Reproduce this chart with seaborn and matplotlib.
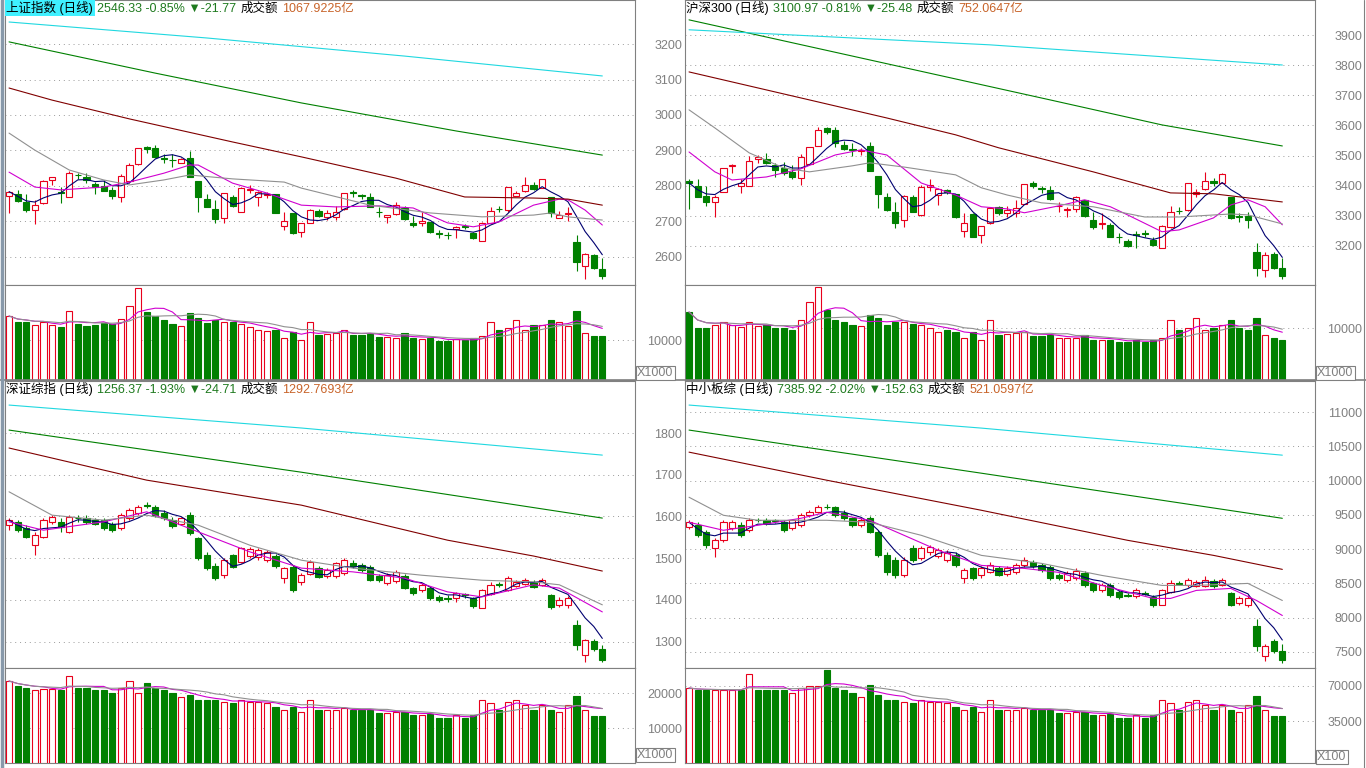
import numpy as np
import pandas as pd
import matplotlib
matplotlib.use("Agg")
import matplotlib.pyplot as plt
import seaborn as sns

sns.set_theme(style="white")
plt.rcParams["font.family"] = ["Liberation Sans", "Noto Sans CJK SC", "DejaVu Sans"]
plt.rcParams["axes.unicode_minus"] = False

UP = "#e8001c"
DOWN = "#008000"
GREEN_TXT = "#1f7a1f"
ORANGE_TXT = "#c8642a"
GRAYTXT = "#808080"

# ---------------- 上证指数 ----------------
sh_open = [2773, 2776, 2754, 2732, 2751, 2818, 2782, 2770, 2832, 2826,
           2805, 2800, 2790, 2768, 2814, 2861, 2910, 2906, 2878, 2874,
           2866, 2880, 2814, 2763, 2734, 2711, 2770, 2727, 2790, 2770,
           2774, 2776, 2687, 2723, 2671, 2697, 2729, 2713, 2713, 2735,
           2782, 2774, 2768, 2728, 2713, 2720, 2737, 2697, 2695, 2699,
           2667, 2663, 2678, 2686, 2668, 2645, 2696, 2736, 2732, 2772,
           2786, 2804, 2793, 2768, 2711, 2721, 2641, 2574, 2605, 2565]
sh_close = [2784, 2758, 2732, 2745, 2813, 2826, 2780, 2837, 2830, 2817,
            2798, 2787, 2772, 2828, 2859, 2906, 2904, 2882, 2876, 2872,
            2876, 2826, 2770, 2741, 2706, 2779, 2743, 2793, 2792, 2784,
            2776, 2723, 2702, 2668, 2696, 2732, 2715, 2723, 2727, 2779,
            2780, 2772, 2741, 2726, 2719, 2746, 2706, 2690, 2701, 2671,
            2665, 2661, 2685, 2684, 2654, 2697, 2729, 2734, 2796, 2779,
            2804, 2791, 2821, 2723, 2718, 2725, 2585, 2607, 2568, 2546.33]
sh_high = [2786, 2790, 2776, 2760, 2817, 2826, 2796, 2842, 2837, 2837,
           2812, 2817, 2796, 2834, 2864, 2908, 2912, 2915, 2890, 2890,
           2880, 2899, 2814, 2777, 2760, 2781, 2774, 2798, 2803, 2787,
           2784, 2776, 2727, 2725, 2696, 2734, 2734, 2732, 2743, 2781,
           2790, 2777, 2779, 2740, 2719, 2756, 2743, 2716, 2726, 2699,
           2676, 2671, 2687, 2692, 2671, 2699, 2742, 2743, 2796, 2786,
           2824, 2812, 2821, 2770, 2730, 2742, 2662, 2610, 2608, 2596]
sh_low = [2723, 2756, 2727, 2693, 2750, 2803, 2753, 2769, 2820, 2807,
          2776, 2786, 2764, 2756, 2807, 2860, 2894, 2880, 2866, 2854,
          2864, 2824, 2727, 2740, 2695, 2696, 2742, 2727, 2779, 2743,
          2765, 2723, 2676, 2666, 2655, 2697, 2713, 2704, 2704, 2732,
          2770, 2764, 2740, 2713, 2695, 2718, 2704, 2685, 2687, 2668,
          2654, 2652, 2654, 2678, 2650, 2645, 2695, 2726, 2727, 2772,
          2784, 2788, 2793, 2712, 2711, 2702, 2561, 2537, 2565, 2537]
sh_vol = [16000, 14500, 14500, 13750, 14500, 13750, 13250, 17250, 14000, 13500,
          13750, 14250, 14000, 15250, 18500, 23000, 17000, 16000, 15000, 14000,
          13500, 16750, 15500, 14250, 15000, 14500, 14500, 14000, 13250, 12500,
          12250, 12500, 10500, 12000, 10000, 14500, 11250, 11500, 11750, 12500,
          11250, 11250, 11500, 10750, 10750, 10500, 11750, 10500, 10250, 10500,
          9750, 9750, 10250, 10000, 10500, 11000, 14500, 12500, 13000, 15000,
          12500, 13750, 13750, 15000, 14500, 13500, 17250, 11750, 11000, 11000]
sh_ma10_x = [0, 3, 6, 11, 14, 18, 21, 22, 26, 30, 34, 38, 43, 47, 51, 54, 57, 61, 64, 65, 67, 69]
sh_ma10_y = [2839, 2797, 2789, 2797, 2811, 2836, 2859, 2859, 2808, 2780, 2746, 2741, 2744, 2738,
             2696, 2685, 2699, 2746, 2763, 2761, 2732, 2690]
sh_ma20_x = [0, 3, 7, 11, 14, 18, 21, 26, 32, 34, 42, 49, 55, 61, 63, 65, 69]
sh_ma20_y = [2949, 2901, 2845, 2817, 2803, 2817, 2831, 2820, 2811, 2794, 2746, 2724, 2713, 2718,
             2724, 2713, 2704]
sh_ma60_x = [0, 5, 14, 26, 34, 45, 53, 61, 65, 69]
sh_ma60_y = [3076, 3042, 2989, 2924, 2882, 2822, 2769, 2766, 2763, 2746]
sh_ma120_x = [0, 17, 34, 52, 69]
sh_ma120_y = [3206, 3118, 3034, 2955, 2887]
sh_ma250_x = [0, 23, 46, 69]
sh_ma250_y = [3262, 3217, 3166, 3110]
sh_ticks = [2600, 2700, 2800, 2900, 3000, 3100, 3200]
sh_vticks = [10000]

# ---------------- 沪深300 ----------------
hs_open = [3414, 3399, 3366, 3345, 3378, 3464, 3399, 3400, 3488, 3488,
           3469, 3460, 3445, 3425, 3472, 3532, 3591, 3585, 3536, 3522,
           3516, 3532, 3432, 3364, 3312, 3286, 3362, 3303, 3395, 3369,
           3386, 3372, 3250, 3305, 3237, 3275, 3328, 3309, 3309, 3340,
           3408, 3393, 3386, 3332, 3320, 3322, 3351, 3286, 3273, 3270,
           3230, 3217, 3238, 3243, 3220, 3192, 3262, 3317, 3320, 3371,
           3388, 3417, 3410, 3362, 3299, 3300, 3179, 3120, 3173, 3126]
hs_close = [3409, 3364, 3345, 3364, 3458, 3468, 3408, 3482, 3495, 3475,
            3452, 3441, 3430, 3495, 3528, 3585, 3580, 3541, 3522, 3520,
            3518, 3450, 3373, 3320, 3275, 3367, 3314, 3397, 3403, 3388,
            3378, 3295, 3275, 3231, 3266, 3325, 3309, 3320, 3325, 3405,
            3399, 3390, 3355, 3334, 3323, 3362, 3300, 3264, 3275, 3231,
            3228, 3200, 3235, 3241, 3203, 3267, 3311, 3315, 3410, 3380,
            3416, 3408, 3439, 3292, 3296, 3286, 3126, 3170, 3126, 3100.97]
hs_high = [3423, 3423, 3399, 3369, 3458, 3471, 3423, 3497, 3502, 3508,
           3477, 3480, 3469, 3505, 3530, 3596, 3596, 3596, 3550, 3541,
           3524, 3545, 3432, 3375, 3347, 3369, 3369, 3403, 3423, 3392,
           3389, 3372, 3309, 3309, 3266, 3327, 3331, 3331, 3353, 3405,
           3417, 3399, 3399, 3347, 3328, 3366, 3353, 3314, 3309, 3275,
           3244, 3222, 3248, 3253, 3229, 3270, 3331, 3328, 3410, 3388,
           3447, 3425, 3441, 3364, 3309, 3311, 3209, 3178, 3181, 3159]
hs_low = [3322, 3362, 3331, 3297, 3378, 3441, 3377, 3400, 3477, 3471,
          3430, 3436, 3421, 3403, 3472, 3532, 3571, 3530, 3519, 3497,
          3502, 3450, 3325, 3317, 3259, 3264, 3314, 3300, 3384, 3336,
          3372, 3292, 3231, 3228, 3209, 3273, 3301, 3295, 3295, 3340,
          3392, 3375, 3353, 3311, 3295, 3311, 3297, 3255, 3255, 3229,
          3211, 3196, 3192, 3229, 3198, 3192, 3260, 3306, 3317, 3364,
          3386, 3399, 3410, 3290, 3278, 3259, 3100, 3098, 3122, 3089]
hs_vol = [13080, 10000, 10000, 10580, 11150, 10580, 10190, 11150, 10380, 10580,
          10000, 10000, 9620, 11540, 15000, 17900, 13460, 11540, 11150, 10580,
          10380, 12500, 11920, 10580, 11150, 11150, 10770, 10580, 10000, 9230,
          9620, 9230, 8080, 9230, 7690, 11540, 8650, 8850, 9040, 9230,
          8460, 8460, 8650, 8080, 8080, 8080, 8650, 7690, 7690, 7690,
          7310, 7310, 7690, 7310, 7690, 8080, 11540, 9620, 10000, 11920,
          9620, 10000, 10580, 11540, 10000, 9620, 11920, 8650, 8080, 7690]
hs_ma10_x = [0, 3, 5, 9, 13, 17, 20, 23, 27, 31, 34, 37, 39, 43, 46, 49, 51, 55, 57, 61, 63, 65, 67, 69]
hs_ma10_y = [3512, 3446, 3419, 3429, 3456, 3502, 3519, 3502, 3409, 3369, 3330, 3323, 3310, 3333,
             3353, 3330, 3303, 3247, 3253, 3293, 3336, 3353, 3330, 3270]
hs_ma20_x = [0, 3, 7, 11, 14, 19, 21, 25, 31, 34, 37, 41, 47, 53, 57, 63, 65, 69]
hs_ma20_y = [3652, 3592, 3509, 3459, 3446, 3466, 3476, 3462, 3436, 3393, 3369, 3343, 3330, 3296,
             3296, 3306, 3303, 3273]
hs_ma60_x = [0, 14, 23, 31, 36, 47, 56, 61, 69]
hs_ma60_y = [3778, 3685, 3625, 3569, 3526, 3446, 3376, 3373, 3346]
hs_ma120_x = [0, 21, 42, 55, 69]
hs_ma120_y = [3951, 3818, 3685, 3602, 3532]
hs_ma250_x = [0, 35, 69]
hs_ma250_y = [3918, 3868, 3801]
hs_ticks = [3200, 3300, 3400, 3500, 3600, 3700, 3800, 3900]
hs_vticks = [10000]

# ---------------- 深证综指 ----------------
sz_open = [1579, 1587, 1572, 1531, 1551, 1587, 1587, 1563, 1597, 1596,
           1591, 1591, 1582, 1572, 1596, 1608, 1628, 1623, 1608, 1591,
           1582, 1603, 1548, 1507, 1481, 1459, 1507, 1491, 1505, 1503,
           1495, 1505, 1452, 1479, 1443, 1462, 1476, 1457, 1457, 1464,
           1488, 1483, 1479, 1457, 1440, 1445, 1457, 1428, 1424, 1428,
           1407, 1405, 1404, 1413, 1404, 1380, 1414, 1437, 1424, 1433,
           1438, 1443, 1436, 1412, 1388, 1388, 1340, 1268, 1302, 1281]
sz_close = [1591, 1567, 1551, 1555, 1591, 1599, 1575, 1599, 1595, 1587,
            1582, 1572, 1567, 1603, 1615, 1623, 1626, 1603, 1596, 1577,
            1596, 1560, 1500, 1476, 1452, 1495, 1479, 1524, 1522, 1519,
            1515, 1481, 1476, 1424, 1459, 1491, 1455, 1471, 1488, 1495,
            1481, 1471, 1447, 1447, 1459, 1467, 1428, 1416, 1436, 1404,
            1400, 1403, 1416, 1411, 1385, 1424, 1436, 1435, 1452, 1443,
            1447, 1431, 1447, 1383, 1400, 1404, 1292, 1304, 1281, 1256.37]
sz_high = [1596, 1591, 1579, 1563, 1596, 1603, 1596, 1603, 1603, 1603,
           1596, 1596, 1587, 1608, 1620, 1627, 1634, 1627, 1615, 1599,
           1599, 1611, 1551, 1515, 1488, 1500, 1510, 1527, 1527, 1524,
           1519, 1510, 1479, 1483, 1464, 1495, 1481, 1476, 1491, 1500,
           1495, 1488, 1483, 1462, 1464, 1471, 1462, 1431, 1440, 1431,
           1412, 1412, 1419, 1416, 1407, 1426, 1443, 1443, 1457, 1447,
           1452, 1447, 1452, 1414, 1407, 1409, 1352, 1307, 1307, 1292]
sz_low = [1567, 1563, 1548, 1507, 1548, 1582, 1563, 1560, 1587, 1582,
          1579, 1567, 1563, 1567, 1591, 1603, 1620, 1599, 1591, 1572,
          1579, 1555, 1495, 1471, 1447, 1452, 1476, 1488, 1500, 1495,
          1491, 1476, 1440, 1419, 1436, 1459, 1452, 1452, 1452, 1459,
          1476, 1467, 1445, 1443, 1436, 1440, 1426, 1412, 1419, 1400,
          1395, 1395, 1395, 1405, 1380, 1380, 1412, 1431, 1421, 1431,
          1436, 1428, 1433, 1378, 1383, 1380, 1280, 1251, 1277, 1251]
sz_vol = [23428, 22000, 21428, 20857, 21143, 21143, 20857, 24857, 21428, 21428,
          20857, 20857, 20000, 21428, 23428, 20000, 22857, 21428, 20857, 20000,
          18857, 19428, 18000, 18000, 18000, 17428, 17143, 18000, 17428, 17428,
          17143, 16000, 15143, 16000, 14571, 18000, 15143, 15143, 15143, 15714,
          15143, 15143, 15143, 14286, 14286, 14571, 14571, 13714, 13714, 14000,
          12857, 12857, 13714, 12857, 13714, 18000, 17143, 15143, 17428, 18000,
          16571, 15143, 16571, 15143, 14571, 16571, 19143, 15143, 13428, 13428]
sz_ma10_x = [0, 4, 11, 16, 22, 28, 34, 40, 46, 51, 55, 61, 64, 69]
sz_ma10_y = [1587, 1567, 1587, 1611, 1563, 1515, 1476, 1467, 1452, 1419, 1407, 1436, 1428, 1371]
sz_ma20_x = [0, 5, 11, 16, 22, 28, 34, 40, 48, 55, 61, 64, 69]
sz_ma20_y = [1659, 1603, 1591, 1603, 1579, 1531, 1495, 1476, 1459, 1447, 1443, 1436, 1388]
sz_ma60_x = [0, 16, 34, 51, 61, 69]
sz_ma60_y = [1764, 1687, 1627, 1543, 1505, 1469]
sz_ma120_x = [0, 34, 69]
sz_ma120_y = [1807, 1706, 1596]
sz_ma250_x = [0, 34, 69]
sz_ma250_y = [1867, 1812, 1747]
sz_ticks = [1300, 1400, 1500, 1600, 1700, 1800]
sz_vticks = [10000, 20000]

# ---------------- 中小板综 ----------------
zx_open = [9319, 9348, 9246, 9012, 9129, 9304, 9348, 9275, 9425, 9421,
           9421, 9392, 9304, 9348, 9494, 9538, 9615, 9611, 9523, 9450,
           9348, 9450, 9246, 8909, 8836, 8617, 9012, 8865, 8953, 8895,
           8836, 8909, 8573, 8719, 8617, 8661, 8719, 8632, 8661, 8763,
           8807, 8763, 8734, 8617, 8544, 8573, 8646, 8500, 8398, 8471,
           8368, 8329, 8310, 8357, 8295, 8178, 8368, 8503, 8471, 8456,
           8456, 8530, 8471, 8354, 8208, 8178, 7886, 7447, 7666, 7520]
zx_close = [9392, 9202, 9056, 9129, 9392, 9392, 9202, 9421, 9418, 9378,
            9406, 9275, 9421, 9494, 9538, 9611, 9608, 9494, 9450, 9348,
            9421, 9246, 8909, 8661, 8617, 8836, 8836, 9012, 9026, 8982,
            8939, 8763, 8690, 8573, 8719, 8763, 8617, 8719, 8763, 8836,
            8748, 8690, 8573, 8573, 8646, 8675, 8471, 8398, 8471, 8325,
            8295, 8322, 8398, 8350, 8178, 8398, 8500, 8497, 8544, 8515,
            8544, 8456, 8544, 8178, 8281, 8281, 7593, 7593, 7520, 7385.92]
zx_high = [9421, 9392, 9275, 9160, 9421, 9421, 9392, 9450, 9450, 9450,
           9440, 9421, 9440, 9523, 9567, 9640, 9655, 9625, 9567, 9465,
           9450, 9480, 9275, 8953, 8880, 8880, 9056, 9040, 9056, 9012,
           8982, 8953, 8719, 8734, 8748, 8807, 8748, 8748, 8792, 8880,
           8836, 8792, 8763, 8646, 8675, 8719, 8675, 8515, 8500, 8500,
           8398, 8354, 8427, 8383, 8325, 8412, 8544, 8530, 8573, 8544,
           8602, 8559, 8573, 8368, 8310, 8325, 7987, 7622, 7695, 7622]
zx_low = [9290, 9173, 9012, 8880, 9100, 9275, 9173, 9246, 9392, 9348,
          9378, 9246, 9275, 9319, 9465, 9523, 9582, 9465, 9421, 9319,
          9319, 9231, 8880, 8617, 8573, 8590, 8807, 8836, 8909, 8865,
          8807, 8734, 8500, 8544, 8573, 8646, 8602, 8602, 8632, 8734,
          8719, 8661, 8544, 8544, 8515, 8544, 8442, 8368, 8368, 8295,
          8266, 8295, 8281, 8325, 8149, 8178, 8354, 8471, 8442, 8442,
          8442, 8427, 8456, 8164, 8178, 8149, 7520, 7374, 7491, 7345]
zx_vol = [68000, 66000, 66000, 66000, 66000, 66000, 66000, 82000, 66000, 66000,
          66000, 66000, 63000, 68000, 70000, 70000, 86000, 68000, 66000, 63000,
          59000, 71000, 61000, 56000, 56000, 54000, 53000, 56000, 54000, 54000,
          53000, 49000, 46000, 49000, 44000, 56000, 46000, 46000, 46000, 48000,
          46000, 46000, 46000, 43000, 43000, 44000, 44000, 41000, 41000, 42000,
          38000, 38000, 41000, 38000, 41000, 56000, 53000, 46000, 54000, 56000,
          51000, 46000, 51000, 46000, 44000, 51000, 60000, 46000, 40000, 40000]
zx_ma10_x = [0, 4, 8, 13, 16, 21, 25, 29, 34, 39, 43, 48, 54, 56, 59, 63, 66, 69]
zx_ma10_y = [9392, 9275, 9348, 9450, 9538, 9421, 9202, 8982, 8763, 8719, 8661, 8471, 8281,
             8281, 8398, 8427, 8251, 8032]
zx_ma20_x = [0, 4, 8, 16, 21, 27, 34, 41, 48, 55, 59, 65, 69]
zx_ma20_y = [9757, 9494, 9421, 9421, 9392, 9202, 8909, 8792, 8617, 8471, 8471, 8500, 8251]
zx_ma60_x = [0, 16, 34, 51, 61, 69]
zx_ma60_y = [10415, 10006, 9567, 9129, 8909, 8705]
zx_ma120_x = [0, 34, 69]
zx_ma120_y = [10737, 10108, 9450]
zx_ma250_x = [0, 34, 69]
zx_ma250_y = [11102, 10766, 10371]
zx_ticks = [7500, 8000, 8500, 9000, 9500, 10000, 10500, 11000]
zx_vticks = [35000, 70000]

W, H = 1366, 768
fig = plt.figure(figsize=(W / 100, H / 100), dpi=100)
fig.patch.set_facecolor("white")


def add_ax(x0, y0, x1, y1):
    ax = fig.add_axes([x0 / W, 1 - y1 / H, (x1 - x0) / W, (y1 - y0) / H])
    ax.set_facecolor("white")
    for s in ax.spines.values():
        s.set_color("#808080")
        s.set_linewidth(0.8)
    ax.set_xlim(-0.47, 72.8)
    ax.set_xticks([])
    return ax


def style_y(ax, ticks, ylim):
    ax.set_ylim(*ylim)
    ax.yaxis.tick_right()
    ax.set_yticks(ticks)
    ax.set_yticklabels([str(t) for t in ticks])
    ax.tick_params(axis="y", length=0, pad=34, labelsize=9, labelcolor=GRAYTXT)
    for lb in ax.get_yticklabels():
        lb.set_horizontalalignment("right")
    for t in ticks:
        ax.axhline(t, color="#9a9a9a", lw=0.7, ls=(0, (1, 4)), zorder=0)


def candles(ax, o, h, l, c):
    o, h, l, c = map(np.asarray, (o, h, l, c))
    x = np.arange(len(o))
    up = c >= o
    col = np.where(up, UP, DOWN)
    ax.vlines(x, l, h, colors=col, lw=0.8, zorder=2)
    ax.bar(x, np.abs(c - o), bottom=np.minimum(o, c), width=0.72,
           color=np.where(up, "white", DOWN), edgecolor=col, linewidth=0.8, zorder=3)


def volumes(ax, v, o, c, base=0):
    v, o, c = map(np.asarray, (v, o, c))
    x = np.arange(len(v))
    up = c >= o
    col = np.where(up, UP, DOWN)
    ax.bar(x, v - base, bottom=base, width=0.72, color=np.where(up, "white", DOWN),
           edgecolor=col, linewidth=0.8, zorder=3)
    s = pd.Series(v, dtype=float)
    sns.lineplot(x=x, y=s.rolling(5, min_periods=1).mean().values, ax=ax, color="#d000d0", lw=0.8, zorder=4)
    sns.lineplot(x=x, y=s.rolling(10, min_periods=1).mean().values, ax=ax, color="#909090", lw=0.8, zorder=4)


def ma_line(ax, xs, ys, color):
    sns.lineplot(x=xs, y=ys, ax=ax, color=color, lw=0.8, zorder=4, legend=False)


def price_panel(ax, o, h, l, c, ma10, ma20, ma60, ma120, ma250):
    candles(ax, o, h, l, c)
    ma5 = pd.Series(c, dtype=float).rolling(5, min_periods=1).mean()
    ma_line(ax, np.arange(len(c)), ma5.values, "#000070")
    ma_line(ax, ma10[0], ma10[1], "#d000d0")
    ma_line(ax, ma20[0], ma20[1], "#909090")
    ma_line(ax, ma60[0], ma60[1], "#800000")
    ma_line(ax, ma120[0], ma120[1], "#008000")
    ma_line(ax, ma250[0], ma250[1], "#20d8e0")


def title(ax, parts, bg=None):
    first, col0 = parts[0]
    kw = {}
    if bg:
        kw["bbox"] = dict(boxstyle="square,pad=0.12", fc=bg, ec="none")
    t = ax.text(0.002, 0.997, first, color=col0, transform=ax.transAxes, va="top", ha="left",
                fontsize=9, zorder=10, **kw)
    for s, col in parts[1:]:
        t = ax.annotate(s, xy=(1, 0), xycoords=t, xytext=(3, 0), textcoords="offset points",
                        va="bottom", ha="left", color=col, fontsize=9, zorder=10)


def unit_box(x, y, s):
    fig.text(x / W, 1 - y / H, s, fontsize=9, color=GRAYTXT, ha="left", va="center",
             bbox=dict(boxstyle="square,pad=0.1", fc="white", ec="#808080", lw=0.8))


# ---- top-left
ax = add_ax(5, 0, 635, 285)
style_y(ax, sh_ticks, (2521, 3324))
price_panel(ax, sh_open, sh_high, sh_low, sh_close, (sh_ma10_x, sh_ma10_y), (sh_ma20_x, sh_ma20_y),
            (sh_ma60_x, sh_ma60_y), (sh_ma120_x, sh_ma120_y), (sh_ma250_x, sh_ma250_y))
title(ax, [("上证指数 (日线)", "black"), ("2546.33 -0.85% ▼-21.77", GREEN_TXT), ("成交额", "black"),
           ("1067.9225亿", ORANGE_TXT)], bg="#3ff0ff")
axv = add_ax(5, 285, 635, 380)
style_y(axv, sh_vticks, (0, 23750))
volumes(axv, sh_vol, sh_open, sh_close)
unit_box(637, 373, "X1000")

# ---- top-right
ax = add_ax(685, 0, 1315, 285)
style_y(ax, hs_ticks, (3070, 4017))
price_panel(ax, hs_open, hs_high, hs_low, hs_close, (hs_ma10_x, hs_ma10_y), (hs_ma20_x, hs_ma20_y),
            (hs_ma60_x, hs_ma60_y), (hs_ma120_x, hs_ma120_y), (hs_ma250_x, hs_ma250_y))
title(ax, [("沪深300 (日线)", "black"), ("3100.97 -0.81% ▼-25.48", GREEN_TXT), ("成交额", "black"),
           ("752.0647亿", ORANGE_TXT)])
axv = add_ax(685, 285, 1315, 380)
style_y(axv, hs_vticks, (0, 18270))
volumes(axv, hs_vol, hs_open, hs_close)
unit_box(1317, 373, "X1000")

# ---- bottom-left
ax = add_ax(5, 381, 635, 668)
style_y(ax, sz_ticks, (1236.5, 1924.7))
price_panel(ax, sz_open, sz_high, sz_low, sz_close, (sz_ma10_x, sz_ma10_y), (sz_ma20_x, sz_ma20_y),
            (sz_ma60_x, sz_ma60_y), (sz_ma120_x, sz_ma120_y), (sz_ma250_x, sz_ma250_y))
title(ax, [("深证综指 (日线)", "black"), ("1256.37 -1.93% ▼-24.71", GREEN_TXT), ("成交额", "black"),
           ("1292.7693亿", ORANGE_TXT)])
axv = add_ax(5, 668, 635, 763)
style_y(axv, sz_vticks, (0, 27143))
volumes(axv, sz_vol, sz_open, sz_close)
unit_box(637, 755, "X1000")

# ---- bottom-right
ax = add_ax(685, 381, 1315, 668)
style_y(ax, zx_ticks, (7266, 11453))
price_panel(ax, zx_open, zx_high, zx_low, zx_close, (zx_ma10_x, zx_ma10_y), (zx_ma20_x, zx_ma20_y),
            (zx_ma60_x, zx_ma60_y), (zx_ma120_x, zx_ma120_y), (zx_ma250_x, zx_ma250_y))
title(ax, [("中小板综 (日线)", "black"), ("7385.92 -2.02% ▼-152.63", GREEN_TXT), ("成交额", "black"),
           ("521.0597亿", ORANGE_TXT)])
axv = add_ax(685, 668, 1315, 763)
style_y(axv, zx_vticks, (-7000, 88000))
volumes(axv, zx_vol, zx_open, zx_close, base=-7000)
unit_box(1317, 757, "X100")

# frame lines
fig.add_artist(plt.Line2D([0, 1], [1 - 380.5 / H] * 2, transform=fig.transFigure, color="#808080", lw=1.2))
fig.add_artist(plt.Line2D([1364 / W] * 2, [0, 1], transform=fig.transFigure, color="#808080", lw=0.8))
fig.add_artist(plt.Line2D([2 / W] * 2, [0, 1], transform=fig.transFigure, color="#8899aa", lw=2.5))

fig.savefig("out.png", dpi=100, facecolor="white")
